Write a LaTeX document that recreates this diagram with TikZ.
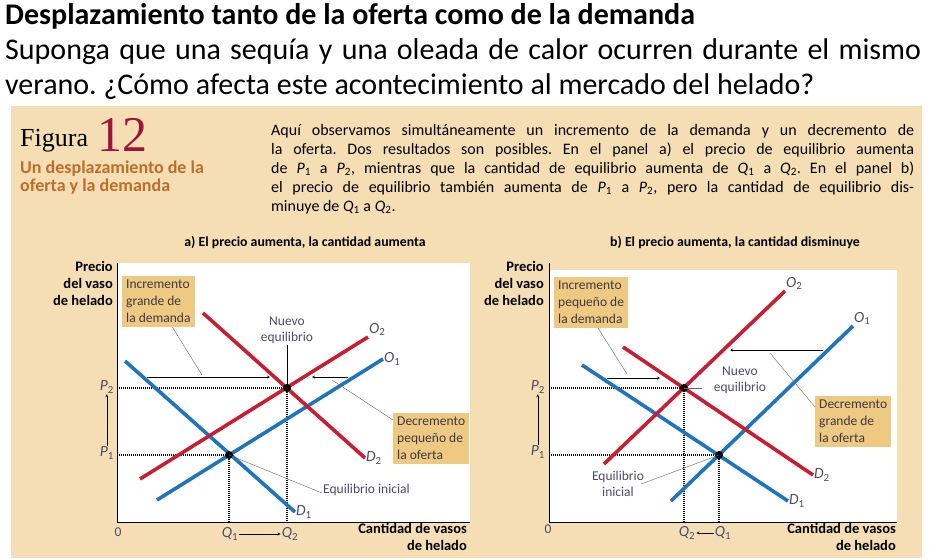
\documentclass[tikz,border=0pt]{standalone}
\usepackage{fontspec}
\setmainfont{Carlito}
\newfontfamily\figurafont{Liberation Serif}
\usetikzlibrary{arrows,positioning}
\frenchspacing

\definecolor{panelbg}{RGB}{245,222,180}
\definecolor{boxfill}{RGB}{238,201,130}
\definecolor{curveblue}{RGB}{30,117,190}
\definecolor{curvered}{RGB}{200,30,50}
\definecolor{labelgray}{RGB}{78,74,108}
\definecolor{boxtext}{RGB}{62,56,66}
\definecolor{figred}{RGB}{160,20,60}
\definecolor{subbrown}{RGB}{190,110,40}

\newcommand\ecsub[2]{\textit{#1}\textsubscript{#2}}

\begin{document}
\begin{tikzpicture}[x=1pt,y=-1pt]
    % Styles
    \tikzstyle{graphlabel} = [text=labelgray, font=\fontsize{13.5}{16}\selectfont, inner sep=1pt]
    \tikzstyle{varlabel} = [text=labelgray, font=\fontsize{15.5}{16}\selectfont, inner sep=1pt]
    \tikzstyle{shiftbox} = [fill=boxfill, text=boxtext, font=\fontsize{13.5}{17}\selectfont, align=left, inner sep=4pt, anchor=north west]
    \tikzstyle{axislabel} = [font=\bfseries\fontsize{14.5}{17}\selectfont, align=right, inner sep=0pt, anchor=north east]
    \tikzstyle{curve} = [line width=3.6pt]
    \tikzstyle{guide} = [line width=1.5pt, dash pattern=on 1.2pt off 0.8pt]
    \tikzstyle{arrow} = [thin,->,>=stealth]
    \tikzstyle{pointer} = [thin, black!60]
    \tikzstyle{eqdot} = [circle, fill=black, inner sep=0pt, minimum size=8pt]
    \tikzstyle{paneltitle} = [font=\bfseries\fontsize{13.8}{16}\selectfont]

    \useasboundingbox (0,0) rectangle (929,558);
    \fill[panelbg] (11,106) rectangle (922,558);

    % Heading
    \node[anchor=base west, inner sep=0pt, font=\bfseries\fontsize{30}{34}\selectfont] (title) at (5,24) {Desplazamiento tanto de la oferta como de la demanda};
    \node[anchor=base west, inner sep=0pt, font=\fontsize{30}{34}\selectfont] (ask1) at (5,59) {\makebox[916pt][s]{Suponga que una sequía y una oleada de calor ocurren durante el mismo}};
    \node[anchor=base west, inner sep=0pt, font=\fontsize{30}{34}\selectfont] (ask2) at (5,94) {verano. ¿Cómo afecta este acontecimiento al mercado del helado?};

    % Caption
    \node[anchor=base west, inner sep=0pt, font=\figurafont\fontsize{26}{28}\selectfont] (fig) at (20,146) {Figura};
    \node[anchor=base west, inner sep=0pt, text=figred, font=\figurafont\fontsize{50}{50}\selectfont] (fignum) at (97,151) {12};
    \node[anchor=north west, inner sep=0pt, align=left, text=subbrown, font=\bfseries\fontsize{18}{18}\selectfont] (subt) at (20,161) {Un desplazamiento de la\\oferta y la demanda};
    \node[anchor=north west, inner sep=0pt, text width=643pt, align=justify, font=\fontsize{16}{19}\selectfont] (desc) at (271,124)
        {Aquí observamos simultáneamente un incremento de la demanda y un decremento de\linebreak
        la oferta. Dos resultados son posibles. En el panel a) el precio de equilibrio aumenta\linebreak
        de \ecsub{P}{1} a \ecsub{P}{2}, mientras que la cantidad de equilibrio aumenta de \ecsub{Q}{1} a \ecsub{Q}{2}. En el panel b)\linebreak
        el precio de equilibrio también aumenta de \ecsub{P}{1} a \ecsub{P}{2}, pero la cantidad de equilibrio dis-\linebreak
        minuye de \ecsub{Q}{1} a \ecsub{Q}{2}.};

    % Panel a
    \node[paneltitle] (titlea) at (305,242) {a) El precio aumenta, la cantidad aumenta};
    \fill[white] (117,263) rectangle (470,522);
    \coordinate (aTop) at (117,263);
    \coordinate (aO) at (117,522);
    \coordinate (aEnd) at (470,522);
    \draw[thick] (aTop) -- (aO) -- (aEnd);

    \coordinate (aD1s) at (125,361);  \coordinate (aD1e) at (295,512);
    \coordinate (aO1s) at (157,500);  \coordinate (aO1e) at (383,359);
    \coordinate (aD2s) at (203,313);  \coordinate (aD2e) at (365,458);
    \coordinate (aO2s) at (140,479);  \coordinate (aO2e) at (368,337);
    \coordinate (aE1) at (229,455);
    \coordinate (aE2) at (287,388);

    \draw[guide] (aO |- aE2) -- (aE2) -- (aE2 |- aO);
    \draw[guide] (aO |- aE1) -- (aE1) -- (aE1 |- aO);

    \draw[curve, curveblue] (aD1s) -- (aD1e);
    \draw[curve, curveblue] (aO1s) -- (aO1e);
    \draw[curve, curvered] (aD2s) -- (aD2e);
    \draw[curve, curvered] (aO2s) -- (aO2e);

    \node[varlabel, anchor=west] (aD1) at (aD1e) {\ecsub{D}{1}};
    \node[varlabel, anchor=west] (aO1) at (aO1e) {\ecsub{O}{1}};
    \node[varlabel, anchor=west] (aD2) at (aD2e) {\ecsub{D}{2}};
    \node[varlabel, anchor=south west] (aO2) at (aO2e) {\ecsub{O}{2}};

    \node[eqdot] (aDot1) at (aE1) {};
    \node[eqdot] (aDot2) at (aE2) {};

    \node[varlabel, anchor=east] (aP2) at (115,387) {\ecsub{P}{2}};
    \node[varlabel, anchor=east] (aP1) at (115,453) {\ecsub{P}{1}};
    \node[varlabel] (aQ1) at (230,534) {\ecsub{Q}{1}};
    \node[varlabel] (aQ2) at (290,534) {\ecsub{Q}{2}};
    \node[graphlabel] (aZero) at (118,532) {0};
    \draw[arrow] (aP1) -- (aP2);
    \draw[arrow] (aQ1) -- (aQ2);

    \node[axislabel] (aPrice) at (113,261) {Precio\\del vaso\\de helado};
    \node[axislabel] (aQty) at (467,523) {Cantidad de vasos\\de helado};

    \node[shiftbox] (aIncBox) at (122,276) {Incremento\\grande de\\la demanda};
    \coordinate (aDemFrom) at (147,377);
    \coordinate (aDemTo) at (270,377);
    \draw[arrow] (aDemFrom) -- (aDemTo);
    \draw[pointer] ([xshift=14pt]aIncBox.south) -- (202,375);

    \node[shiftbox] (aDecBox) at (393,413) {Decremento\\pequeño de\\la oferta};
    \coordinate (aSupFrom) at (348,377);
    \coordinate (aSupTo) at (312,377);
    \draw[arrow] (aSupFrom) -- (aSupTo);
    \draw[pointer] ([yshift=-7pt]aDecBox.north west) -- (332,380);

    \node[graphlabel, align=center] (aNew) at (287,330) {Nuevo\\equilibrio};
    \draw[pointer, black] (aNew.south) -- (aE2);
    \node[graphlabel, anchor=west] (aInit) at (322,490) {Equilibrio inicial};
    \draw[pointer] ([yshift=-3pt]aInit.west) -- (aE1);

    % Panel b
    \node[paneltitle] (titleb) at (735,242) {b) El precio aumenta, la cantidad disminuye};
    \fill[white] (549,270) rectangle (897,522);
    \coordinate (bTop) at (549,263);
    \coordinate (bO) at (549,522);
    \coordinate (bEnd) at (897,522);
    \draw[thick] (bTop) -- (bO) -- (bEnd);

    \coordinate (bD1s) at (582,365);  \coordinate (bD1e) at (788,501);
    \coordinate (bO1s) at (671,501);  \coordinate (bO1e) at (853,326);
    \coordinate (bD2s) at (623,347);  \coordinate (bD2e) at (813,475);
    \coordinate (bO2s) at (604,464);  \coordinate (bO2e) at (785,291);
    \coordinate (bE1) at (719,455);
    \coordinate (bE2) at (684,388);

    \draw[guide] (bO |- bE2) -- (bE2) -- (bE2 |- bO);
    \draw[guide] (bO |- bE1) -- (bE1) -- (bE1 |- bO);

    \draw[curve, curveblue] (bD1s) -- (bD1e);
    \draw[curve, curveblue] (bO1s) -- (bO1e);
    \draw[curve, curvered] (bD2s) -- (bD2e);
    \draw[curve, curvered] (bO2s) -- (bO2e);

    \node[varlabel, anchor=west] (bD1) at (bD1e) {\ecsub{D}{1}};
    \node[varlabel, anchor=south west] (bO1) at (bO1e) {\ecsub{O}{1}};
    \node[varlabel, anchor=west] (bD2) at (bD2e) {\ecsub{D}{2}};
    \node[varlabel, anchor=south west] (bO2) at (bO2e) {\ecsub{O}{2}};

    \node[eqdot] (bDot1) at (bE1) {};
    \node[eqdot] (bDot2) at (bE2) {};

    \node[varlabel, anchor=east] (bP2) at (546,387) {\ecsub{P}{2}};
    \node[varlabel, anchor=east] (bP1) at (546,452) {\ecsub{P}{1}};
    \node[varlabel] (bQ2) at (687,533) {\ecsub{Q}{2}};
    \node[varlabel] (bQ1) at (723,533) {\ecsub{Q}{1}};
    \node[graphlabel] (bZero) at (548,529) {0};
    \draw[arrow] (bP1) -- (bP2);
    \draw[arrow] (bQ1) -- (bQ2);

    \node[axislabel] (bPrice) at (544,261) {Precio\\del vaso\\de helado};
    \node[axislabel] (bQty) at (896,523) {Cantidad de vasos\\de helado};

    \node[shiftbox] (bIncBox) at (554,277) {Incremento\\pequeño de\\la demanda};
    \coordinate (bDemFrom) at (607,378);
    \coordinate (bDemTo) at (660,378);
    \draw[arrow] (bDemFrom) -- (bDemTo);
    \draw[pointer] ([xshift=7pt]bIncBox.south) -- (627,374);

    \node[shiftbox] (bDecBox) at (815,396) {Decremento\\grande de\\la oferta};
    \coordinate (bSupFrom) at (823,350);
    \coordinate (bSupTo) at (730,350);
    \draw[arrow] (bSupFrom) -- (bSupTo);
    \draw[pointer] ([yshift=-11pt]bDecBox.north west) -- (770,353);

    \node[graphlabel, align=center] (bNew) at (740,380) {Nuevo\\equilibrio};
    \draw[pointer] (bE2) -- (702,388);
    \node[graphlabel, align=center] (bInit) at (618,484) {Equilibrio\\inicial};
    \draw[pointer] ([xshift=-4pt]bInit.east) -- (bE1);
\end{tikzpicture}
\end{document}
